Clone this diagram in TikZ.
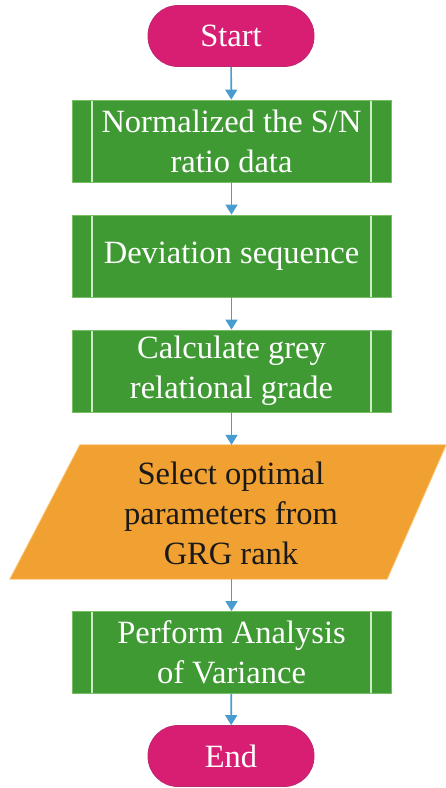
\documentclass[tikz,border=0pt]{standalone}
\usepackage{fontspec}
\setmainfont{Liberation Serif}
\usetikzlibrary{arrows.meta,calc}

\definecolor{procgreen}{RGB}{64,154,52}
\definecolor{procedge}{RGB}{120,190,100}
\definecolor{procline}{RGB}{205,238,195}
\definecolor{termpink}{RGB}{216,30,115}
\definecolor{termedge}{RGB}{190,40,110}
\definecolor{ioorange}{RGB}{241,160,50}
\definecolor{ioedge}{RGB}{250,200,120}
\definecolor{flowblue}{RGB}{72,156,208}

\tikzset{
  labeltext/.style={font=\fontsize{32.5}{40}\selectfont, align=center, inner sep=0pt},
  terminal/.style={labeltext, text=white, fill=termpink, draw=termedge, line width=0.8pt,
    rounded corners=30pt, minimum width=166pt, minimum height=61pt},
  process/.style={labeltext, text=white, fill=procgreen, draw=procedge, line width=0.8pt,
    minimum width=319pt, minimum height=82pt,
    path picture={
      \draw[procline, line width=1.3pt]
        ([xshift=20pt]path picture bounding box.north west) --
        ([xshift=20pt]path picture bounding box.south west);
      \draw[procline, line width=1.3pt]
        ([xshift=-20pt]path picture bounding box.north east) --
        ([xshift=-20pt]path picture bounding box.south east);
    }},
  iobox/.style={labeltext, text=black!90, minimum width=436pt, minimum height=134pt},
  flow/.style={flowblue, line width=1.6pt, -{Triangle[width=12pt,length=10pt]}},
}

\begin{document}
\begin{tikzpicture}[x=1pt,y=-1pt]
  \useasboundingbox (0,0) rectangle (446,788);

  \node[terminal] (start) at (231,36) {Start};
  \node[process] (norm) at (231.5,141) {Normalized the S/N\\ratio data};
  \node[process] (dev) at (231.5,256) {Deviation sequence};
  \node[process] (grg) at (231.5,371) {Calculate grey\\relational grade};

  % input/output parallelogram drawn around a plain text node
  \node[iobox] (sel) at (228,512) {};
  \fill[ioorange, draw=ioedge, line width=0.8pt]
    ([xshift=70pt]sel.north west) -- (sel.north east) --
    ([xshift=-59pt]sel.south east) -- (sel.south west) -- cycle;
  \node[labeltext, text=black!90] at (231,513) {Select optimal\\parameters from\\GRG rank};

  \node[process] (anova) at (231.5,652.5) {Perform Analysis\\of Variance};
  \node[terminal] (end) at (231,756) {End};

  \draw[flow] (start) -- (norm);
  \draw[flow] (norm) -- (dev);
  \draw[flow] (dev) -- (grg);
  \draw[flow] (grg.south) -- (grg.south |- sel.north);
  \draw[flow] (anova.north |- sel.south) -- (anova.north);
  \draw[flow] (anova) -- (end);
\end{tikzpicture}
\end{document}
